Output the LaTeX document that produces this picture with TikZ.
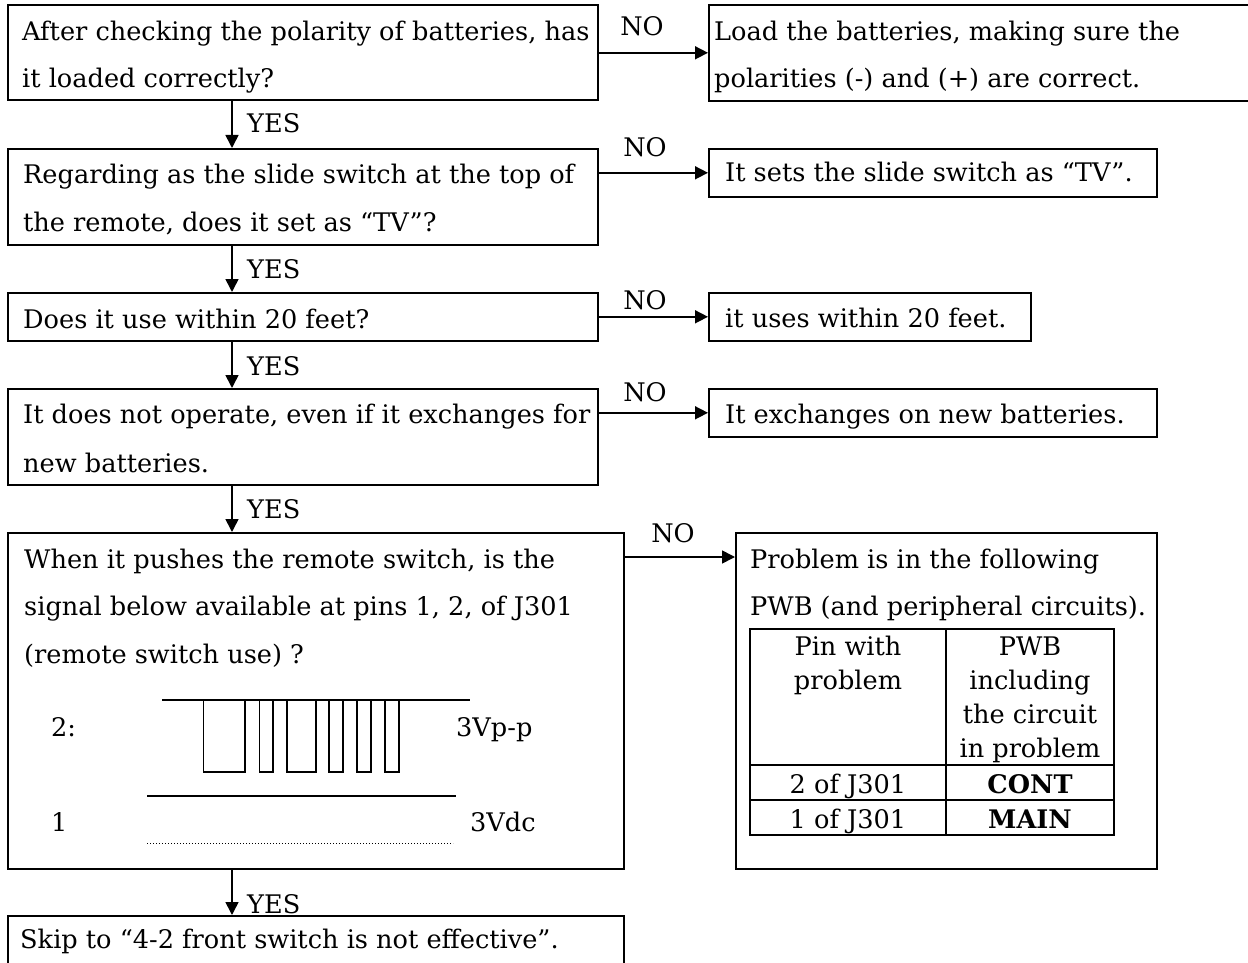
\documentclass[tikz,border=0pt]{standalone}
\usepackage{fontspec}
\setmainfont{DejaVu Serif}
\usetikzlibrary{arrows.meta}
\newcommand\myfs{\fontsize{25.6}{30}\selectfont}
\begin{document}
\begin{tikzpicture}[x=1pt,y=-1pt,
  box/.style={draw,line width=1.6pt,rectangle,inner sep=0pt,anchor=north west},
  txt/.style={anchor=base west,inner sep=0pt,font=\myfs},
  lbl/.style={anchor=base,inner sep=0pt,font=\myfs},
  ctxt/.style={anchor=base,inner sep=0pt,font=\myfs},
  arr/.style={line width=1.6pt,-{Triangle[length=13pt,width=13pt]}},
  tab/.style={line width=2.6pt},
  wave/.style={line width=1.5pt}]
\useasboundingbox (0,0) rectangle (1248,963);
\clip (0,0) rectangle (1248,963);

% boxes
\node[box,minimum width=590pt,minimum height=95pt] (A) at (7,4) {};
\node[box,minimum width=542pt,minimum height=96pt] (Ap) at (708,4) {};
\node[box,minimum width=590pt,minimum height=96pt] (B) at (7,148) {};
\node[box,minimum width=448pt,minimum height=48pt] (Bp) at (708,148) {};
\node[box,minimum width=590pt,minimum height=48pt] (C) at (7,292) {};
\node[box,minimum width=322pt,minimum height=48pt] (Cp) at (708,292) {};
\node[box,minimum width=590pt,minimum height=96pt] (D) at (7,388) {};
\node[box,minimum width=448pt,minimum height=48pt] (Dp) at (708,388) {};
\node[box,minimum width=616pt,minimum height=336pt] (E) at (7,532) {};
\node[box,minimum width=421pt,minimum height=336pt] (F) at (735,532) {};
\node[box,minimum width=616pt,minimum height=80pt] (G) at (7,915) {};

% texts
\node[txt] (tA1) at (22,41) {After checking the polarity of batteries, has};
\node[txt] (tA2) at (22,88) {it loaded correctly?};
\node[txt] (tAp1) at (714,41) {Load the batteries, making sure the};
\node[txt] (tAp2) at (714,88) {polarities (-) and (+) are correct.};
\node[txt] (tB1) at (23,183) {Regarding as the slide switch at the top of};
\node[txt] (tB2) at (23,231) {the remote, does it set as “TV”?};
\node[txt] (tBp) at (725,182) {It sets the slide switch as “TV”.};
\node[txt] (tC) at (23,328) {Does it use within 20 feet?};
\node[txt] (tCp) at (725,327) {it uses within 20 feet.};
\node[txt] (tD1) at (23,423) {It does not operate, even if it exchanges for};
\node[txt] (tD2) at (23,472) {new batteries.};
\node[txt] (tDp) at (725,423) {It exchanges on new batteries.};
\node[txt] (tE1) at (24,568) {When it pushes the remote switch, is the};
\node[txt] (tE2) at (24,615) {signal below available at pins 1, 2, of J301};
\node[txt] (tE3) at (24,663) {(remote switch use) ?};
\node[txt] (tF1) at (750,568) {Problem is in the following};
\node[txt] (tF2) at (750,615) {PWB (and peripheral circuits).};
\node[txt] (tG) at (20,948) {Skip to “4-2 front switch is not effective”.};

% waveform
\node[txt] (w2) at (51,736) {2:};
\node[txt] (w2v) at (456,736) {3Vp-p};
\node[txt] (w1) at (51,831) {1};
\node[txt] (w1v) at (470,831) {3Vdc};
\draw[wave] (162,700) -- (470,700);
\foreach \a/\b in {203.5/245,259.5/273,287/316,329/343,357/371,385/399}
  \draw[wave] (\a,700) -- (\a,772) -- (\b,772) -- (\b,700);
\draw[wave] (147,796) -- (456,796);
\draw[line width=1pt,dotted] (147,843) -- (453,843);

% table
\draw[tab] (750,629) rectangle (1114,835);
\draw[tab] (946,629) -- (946,835);
\draw[tab] (750,765) -- (1114,765);
\draw[tab] (750,800) -- (1114,800);
\node[ctxt] (h11) at (848,655) {Pin with};
\node[ctxt] (h12) at (848,689) {problem};
\node[ctxt] (h21) at (1030,655) {PWB};
\node[ctxt] (h22) at (1030,689) {including};
\node[ctxt] (h23) at (1030,723) {the circuit};
\node[ctxt] (h24) at (1030,757) {in problem};
\node[ctxt] (r11) at (848,793) {2 of J301};
\node[ctxt] (r12) at (1030,793) {\bfseries CONT};
\node[ctxt] (r21) at (848,828) {1 of J301};
\node[ctxt] (r22) at (1030,828) {\bfseries MAIN};

% horizontal connectors
\draw[arr] (A.east |- Ap.west) -- (Ap.west);
\draw[arr] (B.east |- Bp.west) -- (Bp.west);
\draw[arr] (C.east |- Cp.west) -- (Cp.west);
\draw[arr] (D.east |- Dp.west) -- (Dp.west);
\draw[arr] ([yshift=-25pt]E.north east) -- ([yshift=-25pt]F.north west);
\node[lbl] (nA) at (642,36) {NO};
\node[lbl] (nB) at (645,157) {NO};
\node[lbl] (nC) at (645,309) {NO};
\node[lbl] (nD) at (645,401) {NO};
\node[lbl] (nE) at (673,542) {NO};

% vertical connectors
\draw[arr] ([xshift=225pt]A.south west) -- ([xshift=225pt]B.north west);
\draw[arr] ([xshift=225pt]B.south west) -- ([xshift=225pt]C.north west);
\draw[arr] ([xshift=225pt]C.south west) -- ([xshift=225pt]D.north west);
\draw[arr] ([xshift=225pt]D.south west) -- ([xshift=225pt]E.north west);
\draw[arr] ([xshift=225pt]E.south west) -- ([xshift=225pt]G.north west);
\node[txt] (yA) at (247,133) {YES};
\node[txt] (yB) at (247,278) {YES};
\node[txt] (yC) at (247,375) {YES};
\node[txt] (yD) at (247,518) {YES};
\node[txt] (yE) at (247,913) {YES};
\end{tikzpicture}
\end{document}
